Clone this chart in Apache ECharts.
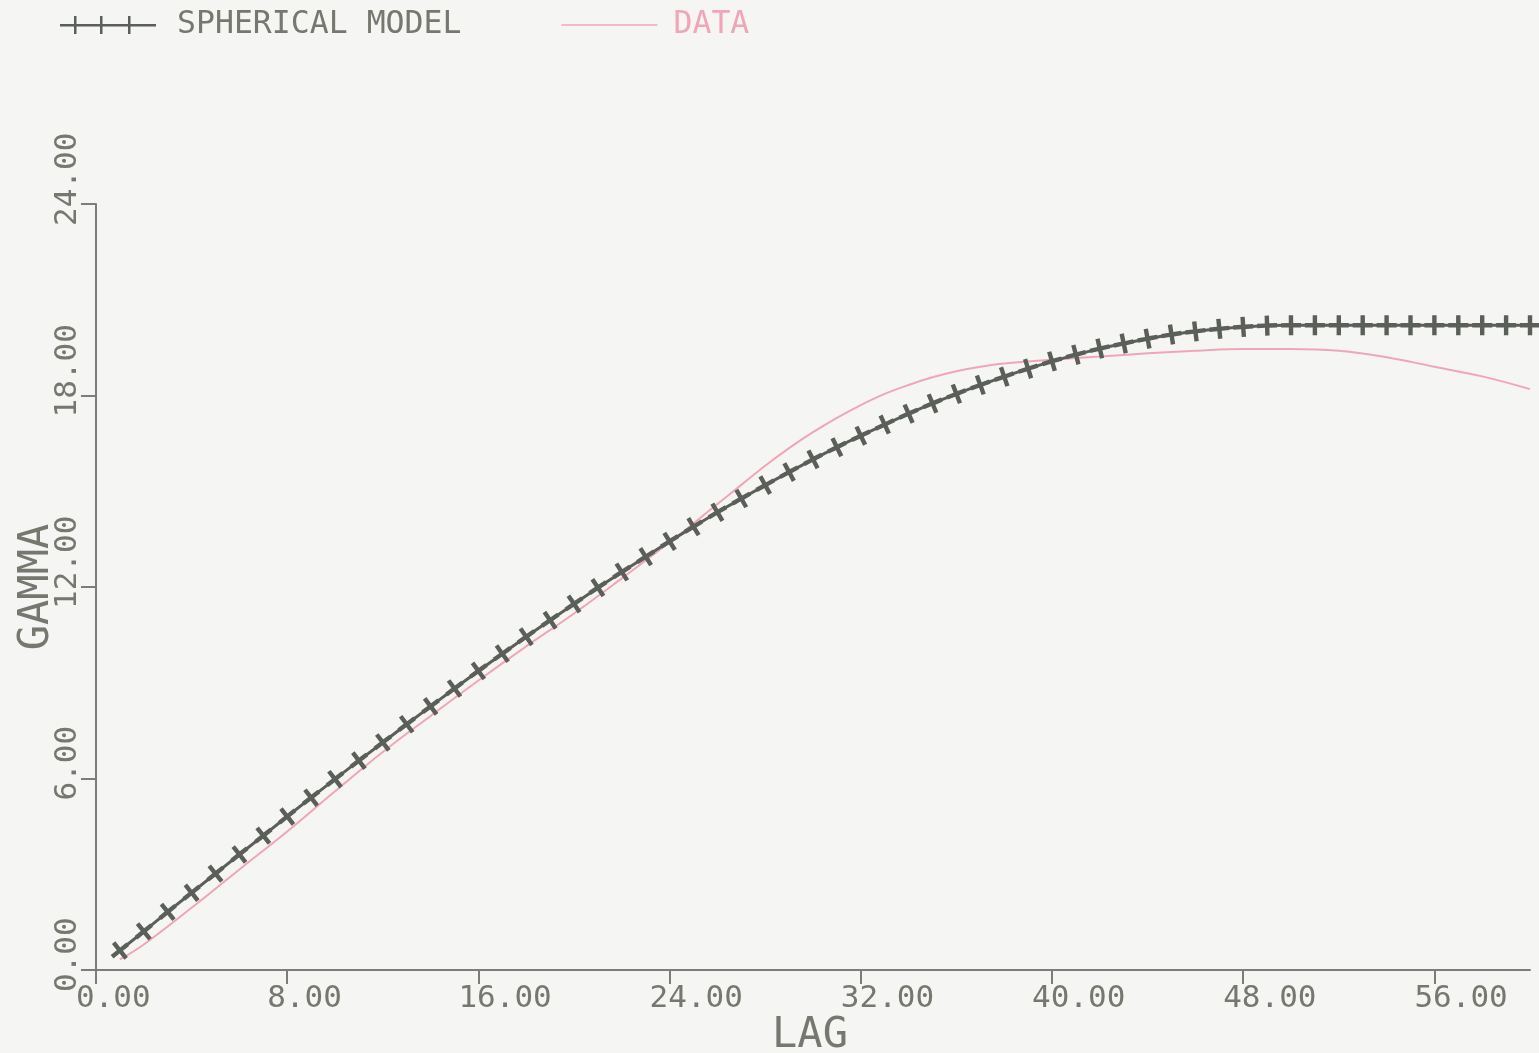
<!DOCTYPE html>
<html>
<head>
<meta charset="utf-8">
<title>Variogram: spherical model vs data</title>
<script src="https://cdn.jsdelivr.net/npm/echarts@6/dist/echarts.min.js"></script>
<style>
  html, body { margin: 0; padding: 0; background: #f5f5f4; }
  #chart { width: 1539px; height: 1053px; }
</style>
</head>
<body>
<div id="chart"></div>
<script>
// Lag distances and semivariance (gamma) of the fitted spherical model
const modelLag = [1,2,3,4,5,6,7,8,9,10,11,12,13,14,15,16,17,18,19,20,
  21,22,23,24,25,26,27,28,29,30,31,32,33,34,35,36,37,38,39,40,
  41,42,43,44,45,46,47,48,49,50,51,52,53,54,55,56,57,58,59,60];
const modelGamma = [0.61,1.21,1.82,2.42,3.02,3.62,4.21,4.81,5.40,5.98,
  6.56,7.13,7.70,8.26,8.82,9.37,9.91,10.44,10.96,11.47,
  11.98,12.47,12.95,13.43,13.89,14.34,14.77,15.19,15.60,16.00,
  16.38,16.74,17.09,17.43,17.75,18.05,18.33,18.59,18.84,19.07,
  19.28,19.47,19.63,19.78,19.91,20.01,20.09,20.15,20.19,20.20,
  20.20,20.20,20.20,20.20,20.20,20.20,20.20,20.20,20.20,20.20];

// Experimental variogram (data curve)
const dataLag = [1,2,4,6,8,10,12,14,16,18,20,22,24,26,27,28,29,30,31,32,
  33,34,35,36,37,38,40,42,44,46,48,50,52,54,56,58,60];
const dataGamma = [0.33,0.8,1.95,3.15,4.34,5.6,6.83,7.96,9.07,10.14,
  11.17,12.27,13.4,14.6,15.2,15.8,16.35,16.85,17.3,17.7,
  18.05,18.33,18.57,18.76,18.9,19.0,19.12,19.22,19.32,19.4,19.46,19.46,19.4,19.2,18.9,18.6,18.2];

// Axis tick values
const xTicks = [0, 8, 16, 24, 32, 40, 48, 56];
const yTicks = [0, 6, 12, 18, 24];

const seriesNames = ['SPHERICAL MODEL', 'DATA'];

const AXIS = '#7c7d78';
const TEXT = '#76776f';
const MODEL = '#5a5f5a';
const DATA_C = '#f0a6b8';
const FONT = '"DejaVu Sans Mono", "Liberation Mono", monospace';

const X_MAX = 60, Y_MAX = 24;
// Plot area, plus two helper grids that only carry tick labels:
// one shifted left (x labels start just before their tick),
// one shifted down (rotated y labels start just below their tick).
const PLOT = { left: 96, right: 9, top: 204, bottom: 83 };
const grids = [
  Object.assign({ outerBoundsMode: 'none' }, PLOT),
  { outerBoundsMode: 'none', left: PLOT.left - 20, right: PLOT.right + 20, top: PLOT.top, bottom: PLOT.bottom },
  { outerBoundsMode: 'none', left: PLOT.left, right: PLOT.right, top: PLOT.top + 22, bottom: PLOT.bottom - 22 }
];
const pxPerX = (1539 - PLOT.left - PLOT.right) / X_MAX;
const pxPerY = (1053 - PLOT.top - PLOT.bottom) / Y_MAX;

const modelPoints = modelLag.map((x, i) => [x, modelGamma[i]]);
const dataPoints = dataLag.map((x, i) => [x, dataGamma[i]]);

// Plus marker; each one is turned to follow the local direction of the curve
const PLUS = 'path://M7.8,0 H12.2 V7.8 H20 V12.2 H12.2 V20 H7.8 V12.2 H0 V7.8 H7.8 Z';
function markerAngle(value, params) {
  const i = params.dataIndex;
  const a = modelPoints[Math.max(0, i - 1)];
  const b = modelPoints[Math.min(modelPoints.length - 1, i + 1)];
  const dx = (b[0] - a[0]) * pxPerX;
  const dy = (b[1] - a[1]) * pxPerY;
  return Math.atan2(dy, dx) * 180 / Math.PI;
}

// Legend icons: a line with three crosses, and a plain line
const ICON_MODEL = 'path://M0,8 H96 V10.5 H0 Z M14,0 H16.5 V18 H14 Z M40,0 H42.5 V18 H40 Z M68,0 H70.5 V18 H68 Z';
const ICON_DATA = 'path://M0,8.2 H96 V9.8 H0 Z';

const hidden = { show: false };
const labelOnlyX = (grid, label) => ({
  type: 'value', gridIndex: grid, min: 0, max: X_MAX,
  axisLine: hidden, axisTick: hidden, splitLine: hidden,
  axisLabel: label || hidden
});
const labelOnlyY = (grid, label) => ({
  type: 'value', gridIndex: grid, min: 0, max: Y_MAX, interval: 6,
  axisLine: hidden, axisTick: hidden, splitLine: hidden,
  axisLabel: label || hidden
});

const chart = echarts.init(document.getElementById('chart'));
chart.setOption({
  backgroundColor: '#f5f5f4',
  animation: false,
  textStyle: { fontFamily: FONT },
  legend: {
    left: 55,
    top: 4,
    itemGap: 100,
    itemWidth: 96,
    itemHeight: 18,
    data: [
      { name: seriesNames[0], icon: ICON_MODEL,
        textStyle: { color: TEXT, padding: [0, 0, 0, 16] } },
      { name: seriesNames[1], icon: ICON_DATA,
        textStyle: { color: DATA_C, padding: [0, 0, 0, 11] } }
    ],
    textStyle: { fontFamily: FONT, fontSize: 31.5 }
  },
  grid: grids,
  xAxis: [
    {
      type: 'value',
      gridIndex: 0,
      min: 0,
      max: X_MAX,
      name: 'LAG',
      nameLocation: 'middle',
      nameGap: 45,
      nameMoveOverlap: false,
      nameTextStyle: { color: TEXT, fontSize: 42, fontFamily: FONT, padding: [0, 0, 0, -6] },
      splitLine: hidden,
      axisLine: { show: true, onZero: false, lineStyle: { color: AXIS, width: 2 } },
      axisTick: { show: true, length: 14, customValues: xTicks, lineStyle: { color: AXIS, width: 2 } },
      axisLabel: hidden
    },
    labelOnlyX(1, {
      customValues: xTicks,
      color: TEXT,
      fontSize: 31,
      fontFamily: FONT,
      margin: 13,
      align: 'left',
      formatter: v => v.toFixed(2)
    }),
    labelOnlyX(2)
  ],
  yAxis: [
    {
      type: 'value',
      gridIndex: 0,
      min: 0,
      max: Y_MAX,
      interval: 6,
      name: 'GAMMA',
      nameLocation: 'middle',
      nameGap: 38,
      nameMoveOverlap: false,
      nameTextStyle: { color: TEXT, fontSize: 42, fontFamily: FONT, letterSpacing: 3 },
      splitLine: hidden,
      axisLine: { show: true, onZero: false, lineStyle: { color: AXIS, width: 2 } },
      axisTick: { show: true, length: 15, customValues: yTicks, lineStyle: { color: AXIS, width: 2 } },
      axisLabel: hidden
    },
    labelOnlyY(1),
    labelOnlyY(2, {
      customValues: yTicks,
      color: TEXT,
      fontSize: 31,
      fontFamily: FONT,
      rotate: 90,
      margin: 13,
      align: 'left',
      verticalAlign: 'bottom',
      formatter: v => v.toFixed(2)
    })
  ],
  series: [
    {
      name: seriesNames[0],
      type: 'line',
      xAxisIndex: 0,
      yAxisIndex: 0,
      data: modelPoints,
      color: MODEL,
      lineStyle: { color: MODEL, width: 3 },
      symbol: PLUS,
      symbolSize: 20,
      symbolRotate: markerAngle,
      itemStyle: { color: MODEL },
      z: 3
    },
    {
      name: seriesNames[1],
      type: 'line',
      xAxisIndex: 0,
      yAxisIndex: 0,
      data: dataPoints,
      smooth: 0.4,
      showSymbol: false,
      symbol: 'none',
      color: DATA_C,
      lineStyle: { color: DATA_C, width: 2 },
      z: 2
    }
  ]
});
</script>
</body>
</html>
